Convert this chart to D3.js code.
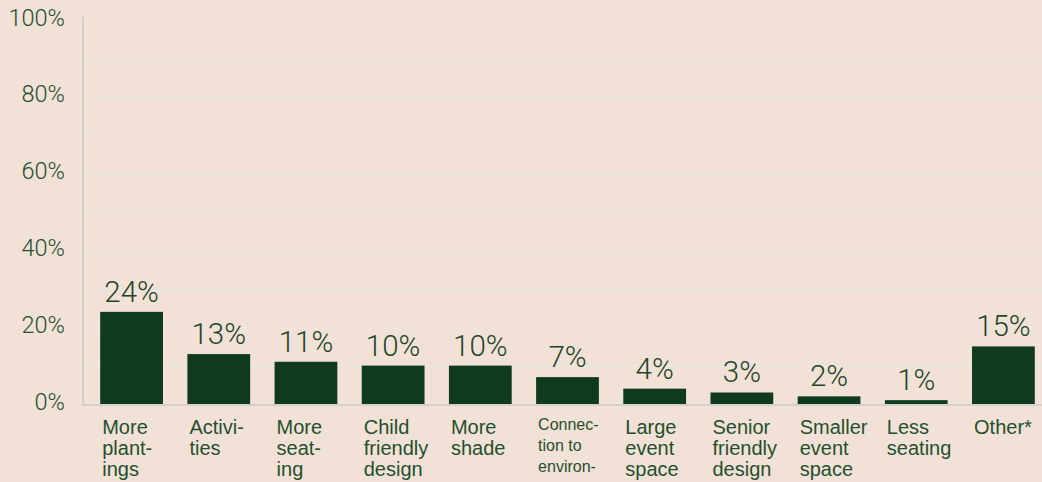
<!DOCTYPE html>
<html>
<head>
<meta charset="utf-8">
<script src="https://cdn.jsdelivr.net/npm/d3@7"></script>
<style>
  html, body { margin: 0; padding: 0; background: #f2e1d7; }
  svg { display: block; }
</style>
</head>
<body>
<script>
// Data
const categories = ["More plantings", "Activities", "More seating", "Child friendly design",
  "More shade", "Connection to environment", "Large event space", "Senior friendly design",
  "Smaller event space", "Less seating", "Other*"];
const labelLines = [["More", "plant-", "ings"], ["Activi-", "ties"], ["More", "seat-", "ing"],
  ["Child", "friendly", "design"], ["More", "shade"], ["Connec-", "tion to", "environ-"],
  ["Large", "event", "space"], ["Senior", "friendly", "design"], ["Smaller", "event", "space"],
  ["Less", "seating"], ["Other*"]];
const values = [24, 13, 11, 10, 10, 7, 4, 3, 2, 1, 15];
const yTicks = [0, 20, 40, 60, 80, 100];
const gridTicks = [10, 20, 30, 40, 50, 60, 70, 80, 90];

const width = 1042, height = 482;
const plotLeft = 83, plotBottom = 404, plotTop = 20;
const barColor = "#103a1f";
const textColor = "#24502f";
const font = "Roboto, 'Liberation Sans', Arial, sans-serif";
const labelFont = "'Liberation Sans', Arial, sans-serif";

const svg = d3.select("body").append("svg")
  .attr("width", width)
  .attr("height", height)
  .style("font-family", font)
  .style("font-weight", 300);

svg.append("rect").attr("width", width).attr("height", height).attr("fill", "#f2e1d7");

const x = d3.scaleBand()
  .domain(categories)
  .range([88, 1047])
  .paddingInner(0.28)
  .paddingOuter(0.14);

const y = d3.scaleLinear()
  .domain([0, 100])
  .range([plotBottom, plotTop]);

// Gridlines
const grid = svg.append("g")
  .attr("transform", `translate(${plotLeft},0)`)
  .call(d3.axisLeft(y).tickValues(gridTicks).tickSize(-(width - plotLeft)).tickFormat(""));
grid.select(".domain").remove();
grid.selectAll("line").attr("stroke", "#ece6e1").attr("stroke-width", 2);

// Y axis labels
const yAxis = svg.append("g")
  .attr("transform", `translate(${plotLeft},0)`)
  .call(d3.axisLeft(y).tickValues(yTicks).tickSize(0).tickPadding(18).tickFormat(d => d + "%"));
yAxis.select(".domain").remove();
yAxis.selectAll("text")
  .attr("fill", textColor)
  .attr("dy", "0.22em")
  .style("font-size", "23.5px")
  .style("font-family", font)
  .style("font-weight", 300);

// Bars
svg.selectAll(".bar")
  .data(values)
  .enter().append("rect")
  .attr("class", "bar")
  .attr("x", (d, i) => x(categories[i]))
  .attr("y", d => y(d))
  .attr("width", x.bandwidth())
  .attr("height", d => y(0) - y(d))
  .attr("fill", barColor);

// Axis lines
svg.append("line")
  .attr("x1", plotLeft).attr("x2", plotLeft)
  .attr("y1", 17).attr("y2", plotBottom + 1)
  .attr("stroke", "#d5cfcb").attr("stroke-width", 2);
svg.append("line")
  .attr("x1", plotLeft).attr("x2", width)
  .attr("y1", plotBottom + 1).attr("y2", plotBottom + 1)
  .attr("stroke", "#d5cfcb").attr("stroke-width", 2);

// Value labels
svg.selectAll(".value")
  .data(values)
  .enter().append("text")
  .attr("class", "value")
  .attr("x", (d, i) => x(categories[i]) + x.bandwidth() / 2)
  .attr("y", d => y(d) - 10)
  .attr("text-anchor", "middle")
  .attr("fill", "#1f4629")
  .style("font-size", "29.5px")
  .text(d => d + "%");

// Category labels
const cats = svg.selectAll(".cat")
  .data(labelLines)
  .enter().append("text")
  .attr("class", "cat")
  .attr("fill", textColor)
  .style("font-family", labelFont)
  .style("font-weight", 400)
  .style("font-size", (d, i) => i === 5 ? "16px" : "20px");

cats.selectAll("tspan")
  .data((d, i) => d.map(t => ({ t, i })))
  .enter().append("tspan")
  .attr("x", d => x(categories[d.i]) + 2)
  .attr("y", (d, j) => (d.i === 5 ? 430 : 434) + j * 21)
  .text(d => d.t);
</script>
</body>
</html>
